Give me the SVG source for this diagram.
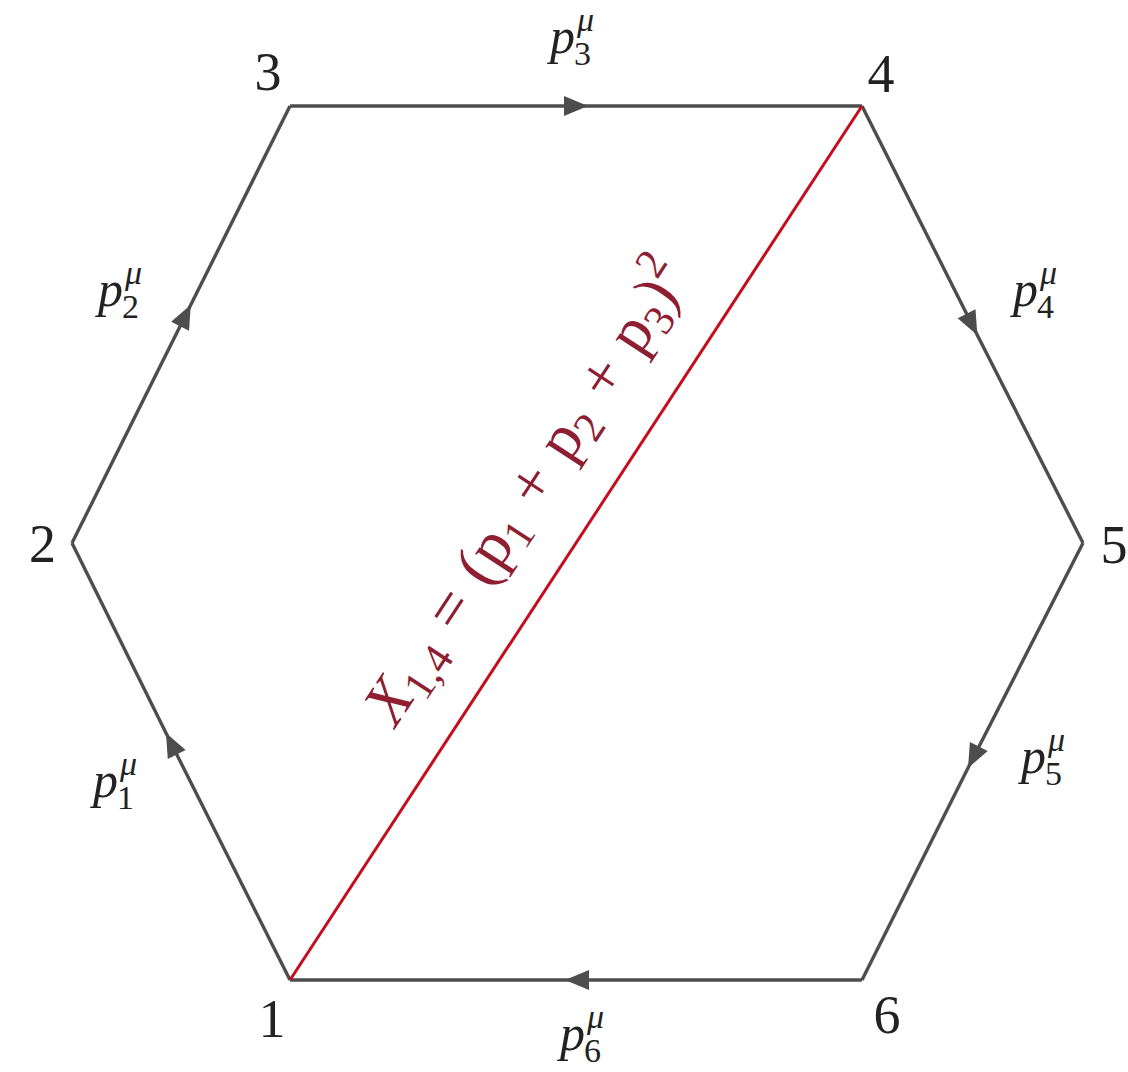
<svg xmlns="http://www.w3.org/2000/svg" width="1128" height="1072" viewBox="0 0 1128 1072">
<style>
.edge{fill:none;stroke:#4d4d4d;stroke-width:3.4;stroke-linejoin:miter;marker-mid:url(#arr)}
.num{font-family:"Liberation Serif",serif;font-size:54px;fill:#222;text-anchor:middle}
.p{font-family:"Liberation Serif",serif;font-size:50px;fill:#222;font-style:italic}
.s{font-size:34px;font-style:normal}
.mu{font-size:34px;font-style:italic}
.red{font-family:"Liberation Serif",serif;font-size:63px;fill:#8e1f33;word-spacing:4px}
.rs{font-size:43px;font-style:normal}
</style>
<defs>
<marker id="arr" markerUnits="userSpaceOnUse" orient="auto" markerWidth="40" markerHeight="40" refX="0" refY="0" overflow="visible">
<path d="M0,0 L-24,-10 L-24,10 Z" fill="#4d4d4d"/>
</marker>
</defs>
<rect width="1128" height="1072" fill="#fff"/>
<g id="connectors">
<path class="edge" d="M290,980 L166,733 L72,543"/>
<path class="edge" d="M72,543 L190.8,304.8 L290,106"/>
<path class="edge" d="M290,106 L588,106 L862,106"/>
<path class="edge" d="M862,106 L977.4,335.2 L1083,543"/>
<path class="edge" d="M1083,543 L968,768 L862,980"/>
<path class="edge" d="M862,980 L565,980 L290,980"/>
<line id="diag" x1="290" y1="980" x2="862" y2="106" stroke="#c40d1e" stroke-width="3"/>
</g>
<g id="n1"><text class="num" x="272" y="1037">1</text></g>
<g id="n2"><text class="num" x="42.5" y="562">2</text></g>
<g id="n3"><text class="num" x="268" y="90">3</text></g>
<g id="n4"><text class="num" x="881" y="92">4</text></g>
<g id="n5"><text class="num" x="1114" y="563">5</text></g>
<g id="n6"><text class="num" x="887" y="1033">6</text></g>
<g id="labels">
<text class="p"><tspan x="93" y="797">p</tspan><tspan class="mu" x="120" y="775">μ</tspan><tspan class="s" x="117" y="809">1</tspan></text>
<text class="p"><tspan x="98" y="306">p</tspan><tspan class="mu" x="125" y="284">μ</tspan><tspan class="s" x="122" y="318">2</tspan></text>
<text class="p"><tspan x="550" y="53">p</tspan><tspan class="mu" x="577" y="31">μ</tspan><tspan class="s" x="574" y="65">3</tspan></text>
<text class="p"><tspan x="1013" y="306">p</tspan><tspan class="mu" x="1040" y="284">μ</tspan><tspan class="s" x="1037" y="318">4</tspan></text>
<text class="p"><tspan x="1021" y="773">p</tspan><tspan class="mu" x="1048" y="751">μ</tspan><tspan class="s" x="1045" y="785">5</tspan></text>
<text class="p"><tspan x="560" y="1050">p</tspan><tspan class="mu" x="587" y="1028">μ</tspan><tspan class="s" x="584" y="1062">6</tspan></text>
</g>
<g id="x14" transform="translate(290,980) rotate(-56.73)">
<text class="red" x="268" y="-50"><tspan font-style="italic">X</tspan><tspan class="rs" dy="11">1,4</tspan><tspan dy="-11"> = (p</tspan><tspan class="rs" dy="11">1</tspan><tspan dy="-11"> + p</tspan><tspan class="rs" dy="11">2</tspan><tspan dy="-11"> + p</tspan><tspan class="rs" dy="11">3</tspan><tspan dy="-11">)</tspan><tspan class="rs" dy="-27">2</tspan></text>
</g>
</svg>
